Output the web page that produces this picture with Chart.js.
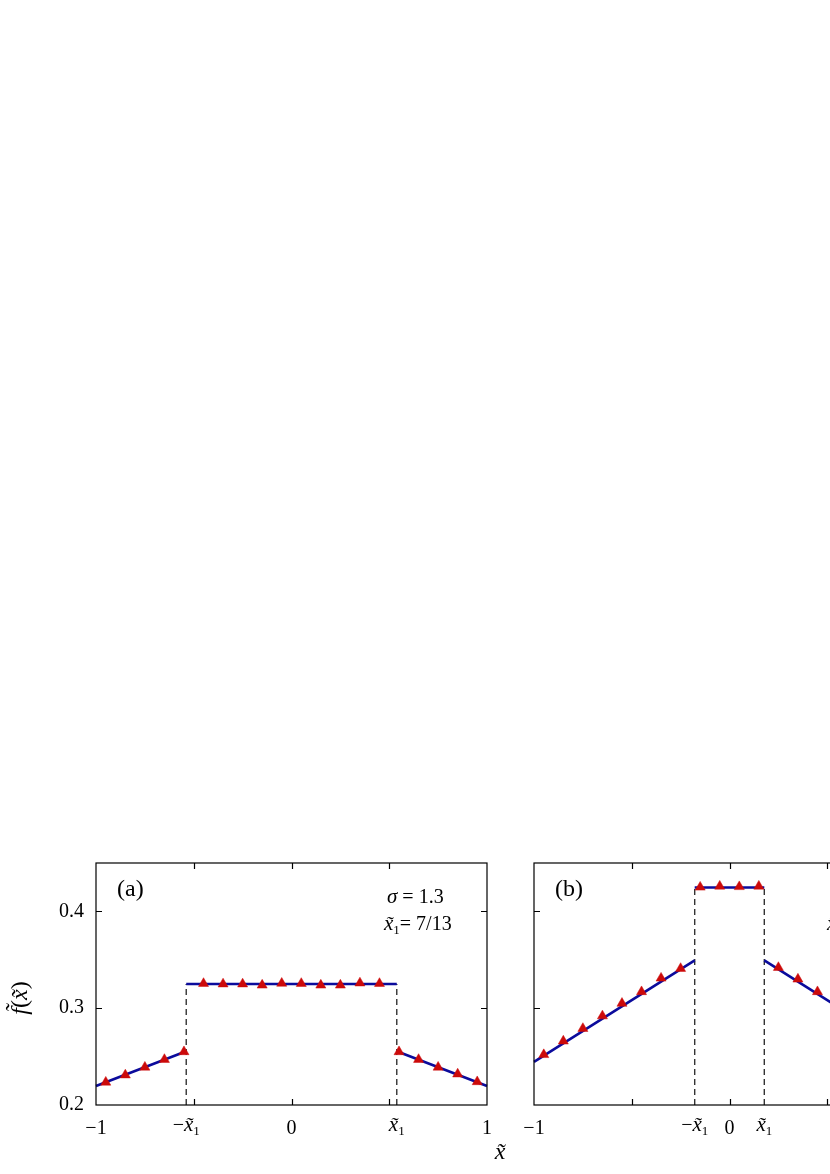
<!DOCTYPE html>
<html>
<head>
<meta charset="utf-8">
<script src="https://cdn.jsdelivr.net/npm/chart.js@4.4.0/dist/chart.umd.min.js"></script>
<style>
  html, body { margin: 0; padding: 0; background: #fff; overflow: hidden; }
  #wrap { position: relative; width: 960px; height: 1174px; }
  canvas { position: absolute; }
  #chartA { left: 0; top: 850px; }
  #chartB { left: 438px; top: 850px; }
</style>
</head>
<body>
<div id="wrap">
  <canvas id="chartA" width="500" height="324"></canvas>
  <canvas id="chartB" width="500" height="324"></canvas>
</div>
<script>
// ---- data ----
const x1A = 7 / 13;
const x1B = 0.178;

// panel (a): simulated points (triangles)
const ptsXA = [-0.95, -0.85, -0.75, -0.65, -0.55,
               -0.45, -0.35, -0.25, -0.15, -0.05, 0.05, 0.15, 0.25, 0.35, 0.45,
               0.55, 0.65, 0.75, 0.85, 0.95];
const ptsYA = [0.2235, 0.231, 0.239, 0.247, 0.255,
               0.3255, 0.325, 0.325, 0.3238, 0.3257, 0.3255, 0.3238, 0.3238, 0.326, 0.3255,
               0.255, 0.247, 0.239, 0.232, 0.224];
// panel (a): theory curve, pieces [-1,-x1], [-x1,x1], [x1,1]
const curveXA = [-1, -x1A, -x1A, x1A, x1A, 1];
const curveYA = [0.2196, 0.2555, 0.325, 0.325, 0.2555, 0.2196];

// panel (b)
const ptsXB = [-0.95, -0.85, -0.75, -0.65, -0.55, -0.45, -0.35, -0.25,
               -0.15, -0.05, 0.05, 0.15,
               0.25, 0.35, 0.45, 0.55, 0.65, 0.75, 0.85, 0.95];
const ptsYB = [0.252, 0.266, 0.279, 0.292, 0.305, 0.317, 0.331, 0.341,
               0.425, 0.426, 0.4255, 0.426,
               0.342, 0.330, 0.317, 0.305, 0.292, 0.279, 0.266, 0.252];
const curveXB = [-1, -x1B, -x1B, x1B, x1B, 1];
const curveYB = [0.2446, 0.3495, 0.4247, 0.4247, 0.3495, 0.2446];

const yTicks = [0.2, 0.3, 0.4];
const yTickLabels = ['0.2', '0.3', '0.4'];
const xTicksA = [-1, -0.5, -x1A, 0, x1A, 0.5, 1];
const xTicksB = [-1, -0.5, -x1B, 0, x1B, 0.5, 1];
const xTickLabels = ['\u22121', '', '', '0', '', '', '1'];

const FONT = "'Liberation Serif', 'DejaVu Serif', serif";
const BLUE = '#0b0b9c';
const RED = '#cc0a0a';

function pieces(xs, ys) {
  // three segments separated by gaps
  return [
    {x: xs[0], y: ys[0]}, {x: xs[1], y: ys[1]}, {x: xs[1], y: null},
    {x: xs[2], y: ys[2]}, {x: xs[3], y: ys[3]}, {x: xs[3], y: null},
    {x: xs[4], y: ys[4]}, {x: xs[5], y: ys[5]}
  ];
}

// draw runs of text with mixed fonts, left to right
function drawRuns(ctx, x, y, runs) {
  runs.forEach(r => {
    ctx.font = r.f;
    ctx.fillText(r.t, x + (r.dx || 0), y + (r.dy || 0));
    x += ctx.measureText(r.t).width + (r.dx || 0);
  });
}
function runsWidth(ctx, runs) {
  let w = 0;
  runs.forEach(r => { ctx.font = r.f; w += ctx.measureText(r.t).width + (r.dx || 0); });
  return w;
}
const it = s => 'italic ' + s + 'px ' + FONT;
const rm = s => s + 'px ' + FONT;

const decorPlugin = {
  id: 'decor',
  afterDatasetsDraw(chart, args, o) {
    const {ctx, chartArea: a, scales: {x, y}} = chart;
    ctx.save();
    // frame
    ctx.strokeStyle = '#000';
    ctx.lineWidth = 1.2;
    ctx.strokeRect(a.left, a.top, a.right - a.left, a.bottom - a.top);
    // inward ticks
    ctx.beginPath();
    [-0.5, 0, 0.5].forEach(v => {
      const px = Math.round(x.getPixelForValue(v)) + 0.5;
      ctx.moveTo(px, a.bottom); ctx.lineTo(px, a.bottom - 6);
      ctx.moveTo(px, a.top); ctx.lineTo(px, a.top + 6);
    });
    [0.3, 0.4].forEach(v => {
      const py = Math.round(y.getPixelForValue(v)) + 0.5;
      ctx.moveTo(a.left, py); ctx.lineTo(a.left + 6, py);
      ctx.moveTo(a.right, py); ctx.lineTo(a.right - 6, py);
    });
    ctx.stroke();

    ctx.fillStyle = '#000';
    ctx.textBaseline = 'alphabetic';
    // special tick labels -x1, x1
    const base = a.bottom + 26;
    [-o.x1, o.x1].forEach(v => {
      const runs = [];
      if (v < 0) runs.push({t: '\u2212', f: rm(20)});
      runs.push({t: 'x\u0303', f: it(21)});
      runs.push({t: '1', f: rm(13), dy: 4});
      const w = runsWidth(ctx, runs);
      drawRuns(ctx, x.getPixelForValue(v) - w / 2, base, runs);
    });

    // panel label
    ctx.font = rm(24);
    ctx.fillText(o.label, a.left + 21, a.top + 33);

    // parameters
    if (o.params) {
      const px = a.left + o.params.dx;
      drawRuns(ctx, px + 3, a.top + 40, [
        {t: '\u03c3', f: it(21)}, {t: ' = ', f: rm(20)}, {t: o.params.sigma, f: rm(20)}
      ]);
      drawRuns(ctx, px, a.top + 67, [
        {t: 'x\u0303', f: it(21)}, {t: '1', f: rm(13), dy: 4}, {t: '= ', f: rm(20)}, {t: o.params.x1, f: rm(20)}
      ]);
    }

    // y axis title
    if (o.yTitle) {
      ctx.save();
      ctx.translate(o.yTitle.x, o.yTitle.y);
      ctx.rotate(-Math.PI / 2);
      const runs = [{t: 'f\u0303', f: it(24)}, {t: '(', f: rm(24)}, {t: 'x\u0303', f: it(24)}, {t: ')', f: rm(24)}];
      const w = runsWidth(ctx, runs);
      drawRuns(ctx, -w / 2, 0, runs);
      ctx.restore();
    }
    // x axis title
    if (o.xTitle) {
      ctx.font = it(24);
      ctx.textAlign = 'center';
      ctx.fillText('x\u0303', o.xTitle.x, o.xTitle.y);
    }
    ctx.restore();
  }
};

function makeChart(id, ptsX, ptsY, curveX, curveY, x1, xTicks, showY, decor) {
  const dashTop = curveY[2];
  return new Chart(document.getElementById(id), {
    type: 'scatter',
    data: {
      datasets: [
        {
          data: ptsX.map((v, i) => ({x: v, y: ptsY[i]})),
          pointStyle: 'triangle',
          pointRadius: 5.8,
          pointBackgroundColor: RED,
          pointBorderColor: RED,
          pointBorderWidth: 0.5,
          showLine: false
        },
        {
          data: pieces(curveX, curveY),
          showLine: true,
          spanGaps: false,
          borderColor: BLUE,
          borderWidth: 2.6,
          pointRadius: 0
        },
        {
          data: [{x: -x1, y: 0.2}, {x: -x1, y: dashTop}, {x: -x1, y: null},
                 {x: x1, y: 0.2}, {x: x1, y: dashTop}],
          showLine: true,
          spanGaps: false,
          borderColor: '#333',
          borderWidth: 1.4,
          borderDash: [6, 4],
          pointRadius: 0
        }
      ]
    },
    options: {
      responsive: false,
      animation: false,
      clip: false,
      layout: {padding: {top: 13, right: 13, left: 0, bottom: 0}},
      plugins: {legend: {display: false}, tooltip: {enabled: false}, decor: decor},
      scales: {
        x: {
          type: 'linear',
          min: -1, max: 1,
          grid: {display: false, drawTicks: false},
          border: {display: false},
          afterBuildTicks: s => { s.ticks = xTicks.map(v => ({value: v})); },
          afterFit: s => { s.height = 69; s.paddingLeft = 0; s.paddingRight = 0; },
          ticks: {
            autoSkip: false,
            maxRotation: 0,
            padding: 12,
            color: '#000',
            font: {family: FONT, size: 20},
            callback: (v, i) => xTickLabels[i]
          }
        },
        y: {
          min: 0.2, max: 0.45,
          grid: {display: false, drawTicks: false},
          border: {display: false},
          afterBuildTicks: s => { s.ticks = yTicks.map(v => ({value: v})); },
          afterFit: s => { s.width = 96; s.paddingTop = 0; s.paddingBottom = 0; },
          ticks: {
            display: showY,
            padding: 12,
            color: '#000',
            font: {family: FONT, size: 20},
            callback: (v, i) => yTickLabels[i]
          }
        }
      }
    },
    plugins: [decorPlugin]
  });
}

makeChart('chartA', ptsXA, ptsYA, curveXA, curveYA, x1A, xTicksA, true, {
  x1: x1A, label: '(a)',
  params: {dx: 288, sigma: '1.3', x1: '7/13'},
  yTitle: {x: 27, y: 148}
});
makeChart('chartB', ptsXB, ptsYB, curveXB, curveYB, x1B, xTicksB, false, {
  x1: x1B, label: '(b)',
  params: {dx: 293, sigma: '0.73', x1: '13/73'},
  xTitle: {x: 62, y: 309}
});
</script>
</body>
</html>
